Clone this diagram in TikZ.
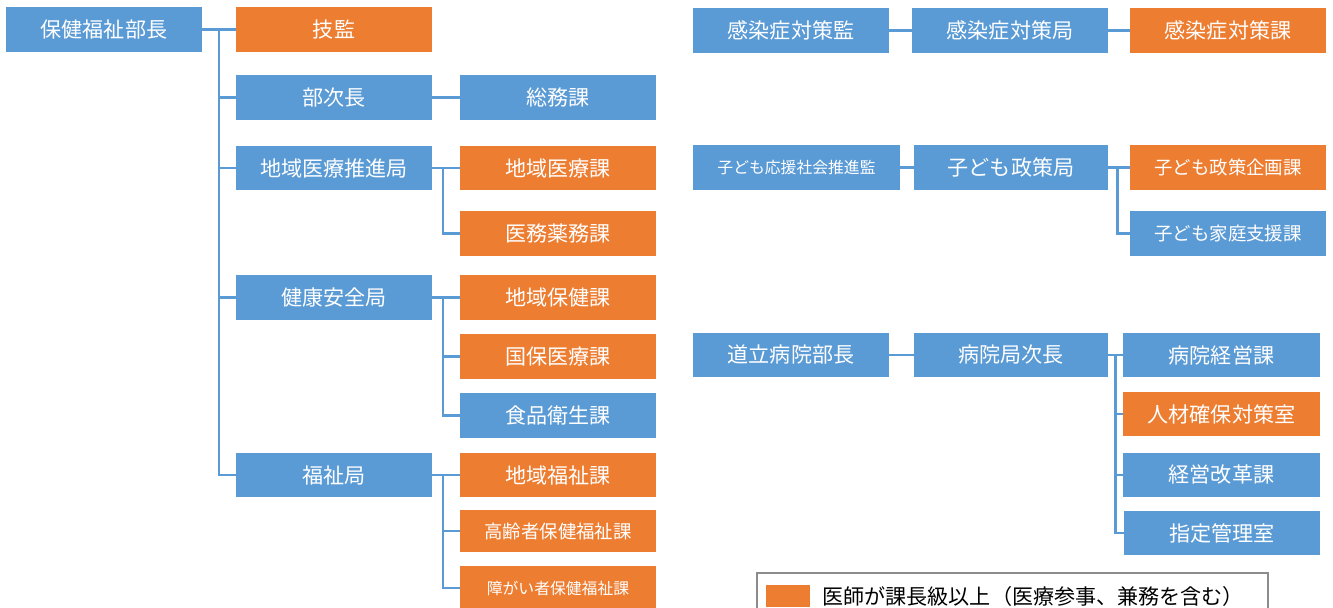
\documentclass[tikz,border=0pt]{standalone}
\usepackage{fontspec}
\newfontfamily\jpfont{Noto Sans CJK JP}
\usetikzlibrary{calc}
\definecolor{boxblue}{HTML}{5B9BD5}
\definecolor{boxorange}{HTML}{ED7D31}
\tikzset{
	unit/.style={fill=boxblue, text=white, minimum width=3.92cm, minimum height=0.9cm, inner sep=0pt, font=\jpfont\fontsize{12}{14}\selectfont},
	doc/.style={unit, fill=boxorange},
	conn/.style={draw=boxblue, line width=1.7pt}
}

\begin{document}
\begin{tikzpicture}[x=0.02cm, y=-0.02cm]
		%%%%% START %%%%%
		\useasboundingbox (0, 0) rectangle (1333, 608);
		
		\node[unit] (bucho) at (104, 29.5) {保健福祉部長};
		\node[doc] (gikan) at (334, 29.5) {技監};
		\node[unit] (bujicho) at (334, 97.5) {部次長};
		\node[unit] (iryokyoku) at (334, 168) {地域医療推進局};
		\node[unit] (kenkokyoku) at (334, 297.5) {健康安全局};
		\node[unit] (fukushikyoku) at (334, 475) {福祉局};
		
		\node[unit] (somuka) at (558, 97.5) {総務課};
		\node[doc] (iryoka) at (558, 168) {地域医療課};
		\node[doc] (imuka) at (558, 233.5) {医務薬務課};
		\node[doc] (hokenka) at (558, 297.5) {地域保健課};
		\node[doc] (kokuhoka) at (558, 356.5) {国保医療課};
		\node[unit] (shokuhinka) at (558, 415.5) {食品衛生課};
		\node[doc] (fukushika) at (558, 475) {地域福祉課};
		\node[doc, minimum height=0.84cm, font=\jpfont\fontsize{10.5}{12}\selectfont] (koreika) at (558, 531) {高齢者保健福祉課};
		\node[doc, minimum height=0.88cm, font=\jpfont\fontsize{9}{11}\selectfont] (shogaika) at (558, 588) {障がい者保健福祉課};
		
		\draw[conn] (bucho.east) -- (gikan.west);
		\coordinate (trunk) at (219, 29.5);
		\draw[conn] (trunk) |- (bujicho.west);
		\draw[conn] (trunk) |- (iryokyoku.west);
		\draw[conn] (trunk) |- (kenkokyoku.west);
		\draw[conn] (trunk) |- (fukushikyoku.west);
		
		\draw[conn] (bujicho.east) -- (somuka.west);
		
		\draw[conn] (iryokyoku.east) -- (iryoka.west);
		\coordinate (iryo) at (443, 168);
		\draw[conn] (iryo) |- (imuka.west);
		
		\draw[conn] (kenkokyoku.east) -- (hokenka.west);
		\coordinate (kenko) at (443, 297.5);
		\draw[conn] (kenko) |- (kokuhoka.west);
		\draw[conn] (kenko) |- (shokuhinka.west);
		
		\draw[conn] (fukushikyoku.east) -- (fukushika.west);
		\coordinate (fukushi) at (443, 475);
		\draw[conn] (fukushi) |- (koreika.west);
		\draw[conn] (fukushi) |- (shogaika.west);
		
		\node[unit] (kansenkan) at (791, 30.5) {感染症対策監};
		\node[unit] (kansenkyoku) at (1010, 30.5) {感染症対策局};
		\node[doc] (kansenka) at (1228, 30.5) {感染症対策課};
		\draw[conn] (kansenkan) -- (kansenkyoku);
		\draw[conn] (kansenkyoku) -- (kansenka);
		
		\node[unit, minimum width=4.14cm, font=\jpfont\fontsize{9}{11}\selectfont] (kodomokan) at (796.5, 167.5) {子ども応援社会推進監};
		\node[unit, minimum width=3.88cm] (kodomokyoku) at (1011, 167.5) {子ども政策局};
		\node[doc, font=\jpfont\fontsize{10.5}{12}\selectfont] (kikakuka) at (1228, 167.5) {子ども政策企画課};
		\node[unit, font=\jpfont\fontsize{10.5}{12}\selectfont] (kateika) at (1228, 233.5) {子ども家庭支援課};
		\draw[conn] (kodomokan) -- (kodomokyoku);
		\draw[conn] (kodomokyoku) -- (kikakuka);
		\coordinate (kodomo) at (1117, 167.5);
		\draw[conn] (kodomo) |- (kateika.west);
		
		\node[unit] (doritsu) at (791, 355) {道立病院部長};
		\node[unit, minimum width=3.88cm] (byoinjicho) at (1011, 355) {病院局次長};
		\node[unit, minimum width=3.94cm] (keieika) at (1221.5, 355) {病院経営課};
		\node[doc, minimum width=3.94cm] (jinzai) at (1221.5, 414) {人材確保対策室};
		\node[unit, minimum width=3.94cm] (kaikaku) at (1221.5, 475) {経営改革課};
		\node[unit, minimum width=3.92cm] (shitei) at (1222, 533) {指定管理室};
		\draw[conn] (doritsu) -- (byoinjicho);
		\draw[conn] (byoinjicho) -- (keieika);
		\coordinate (byoin) at (1115, 355);
		\draw[conn] (byoin) |- (jinzai.west);
		\draw[conn] (byoin) |- (kaikaku.west);
		\draw[conn] (byoin) |- (shitei.west);
		
		% legend
		\draw[draw=black!45, line width=1.1pt] (757, 573) rectangle (1268, 615);
		\fill[boxorange] (766, 585) rectangle (810, 607);
		\node[anchor=west, inner sep=0pt, font=\jpfont\fontsize{12}{14}\selectfont] (legend) at (822, 596) {医師が課長級以上（医療参事、兼務を含む）};
		
		%%%%% END %%%%%
\end{tikzpicture}
\end{document}
